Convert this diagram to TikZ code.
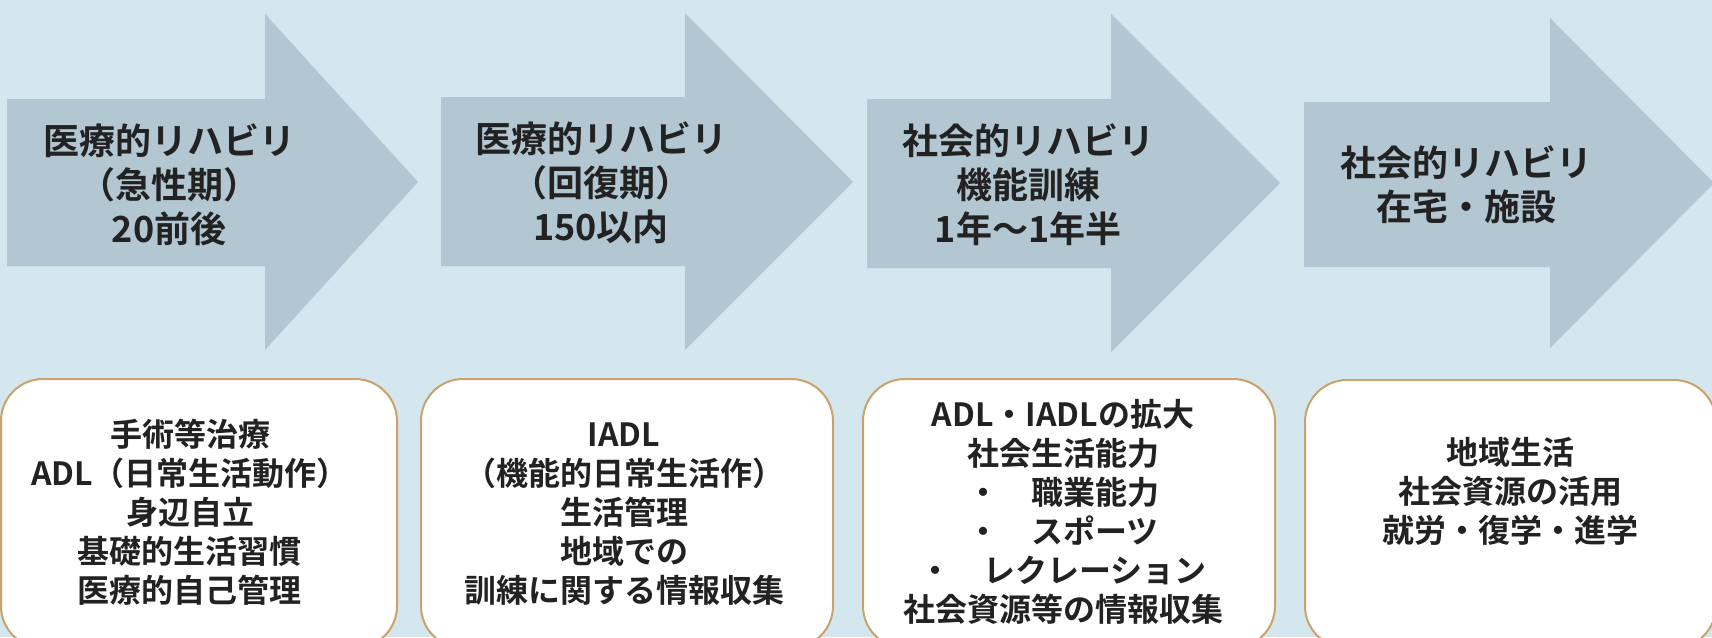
\documentclass[tikz,border=0pt]{standalone}
\usepackage{fontspec}
\setmainfont{Noto Sans CJK JP}[BoldFont={Noto Sans CJK JP Bold}]
\definecolor{bgc}{HTML}{D4E6EE}
\definecolor{arrc}{HTML}{B3C7D2}
\definecolor{brd}{HTML}{C9A26C}
\definecolor{txt}{HTML}{222222}
\begin{document}
\begin{tikzpicture}[x=0.5pt,y=-0.5pt,
  arrowshape/.style={fill=arrc,draw=none},
  infobox/.style={fill=white,draw=brd,line width=1pt,rounded corners=21pt},
  arrtext/.style={align=center,inner sep=0pt,text=txt,font=\bfseries\fontsize{18}{22}\selectfont},
  boxtext/.style={align=center,inner sep=0pt,text=txt,font=\bfseries\fontsize{16}{19.5}\selectfont}]
\fill[bgc] (0,0) rectangle (1712,637);
\useasboundingbox (0,0) rectangle (1712,637);
% arrows
\fill[arrowshape] (7,99) -- (265,99) -- (265,14) -- (418,182) -- (265,350) -- (265,266) -- (7,266) -- cycle;
\fill[arrowshape] (441,97) -- (685,97) -- (685,13) -- (853,182) -- (685,350) -- (685,266) -- (441,266) -- cycle;
\fill[arrowshape] (867,99) -- (1111,99) -- (1111,14) -- (1280,183) -- (1111,352) -- (1111,268) -- (867,268) -- cycle;
\fill[arrowshape] (1304,102) -- (1550,102) -- (1550,18) -- (1714,183) -- (1550,348) -- (1550,267) -- (1304,267) -- cycle;
\node[arrtext] (a1) at (169,185) {医療的リハビリ\\（急性期）\\20前後};
\node[arrtext] (a2) at (601,183) {医療的リハビリ\\（回復期）\\150以内};
\node[arrtext] (a3) at (1028,185) {社会的リハビリ\\機能訓練\\1年～1年半};
\node[arrtext] (a4) at (1466,185) {社会的リハビリ\\在宅・施設};
% boxes
\draw[infobox] (1,379) rectangle (397,648);
\draw[infobox] (421,379) rectangle (833,648);
\draw[infobox] (863,379) rectangle (1275,648);
\draw[infobox] (1305,380) rectangle (1716,648);
\node[boxtext] (b1) at (190,512) {手術等治療\\ADL（日常生活動作）\\身辺自立\\基礎的生活習慣\\医療的自己管理};
\node[boxtext] (b2) at (624,514) {IADL\\（機能的日常生活作）\\生活管理\\地域での\\訓練に関する情報収集};
\node[boxtext] (b3) at (1063,512) {ADL・IADLの拡大\\社会生活能力\\・\hspace{1em}職業能力\\・\hspace{1em}スポーツ\\・\hspace{1em}レクレーション\\社会資源等の情報収集};
\node[boxtext] (b4) at (1510,491) {地域生活\\社会資源の活用\\就労・復学・進学};
\end{tikzpicture}
\end{document}
